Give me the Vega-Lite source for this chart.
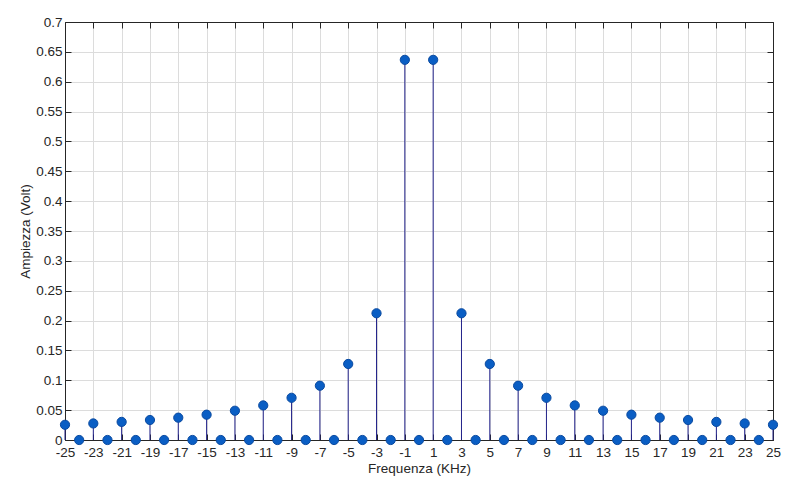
{
  "$schema": "https://vega.github.io/schema/vega-lite/v6.json",
  "width": 708,
  "height": 418,
  "autosize": {"type": "none"},
  "padding": {"left": 65, "top": 22, "right": 26, "bottom": 48},
  "background": "white",
  "config": {
    "view": {"stroke": "#262626", "strokeWidth": 1},
    "font": "Liberation Sans",
    "axis": {
      "labelFont": "Liberation Sans",
      "titleFont": "Liberation Sans",
      "labelFontSize": 13.5,
      "titleFontSize": 13.5,
      "titleFontWeight": "normal",
      "labelColor": "#262626",
      "titleColor": "#262626",
      "gridColor": "#dcdcdc",
      "gridWidth": 1,
      "domainColor": "#262626",
      "tickColor": "#262626"
    }
  },
  "data": {
    "values": [
      {"f": -25, "a": 0.0255}, {"f": -24, "a": 0}, {"f": -23, "a": 0.0277}, {"f": -22, "a": 0},
      {"f": -21, "a": 0.0303}, {"f": -20, "a": 0}, {"f": -19, "a": 0.0335}, {"f": -18, "a": 0},
      {"f": -17, "a": 0.0374}, {"f": -16, "a": 0}, {"f": -15, "a": 0.0424}, {"f": -14, "a": 0},
      {"f": -13, "a": 0.049}, {"f": -12, "a": 0}, {"f": -11, "a": 0.0579}, {"f": -10, "a": 0},
      {"f": -9, "a": 0.0707}, {"f": -8, "a": 0}, {"f": -7, "a": 0.0909}, {"f": -6, "a": 0},
      {"f": -5, "a": 0.1273}, {"f": -4, "a": 0}, {"f": -3, "a": 0.2122}, {"f": -2, "a": 0},
      {"f": -1, "a": 0.6366}, {"f": 0, "a": 0}, {"f": 1, "a": 0.6366}, {"f": 2, "a": 0},
      {"f": 3, "a": 0.2122}, {"f": 4, "a": 0}, {"f": 5, "a": 0.1273}, {"f": 6, "a": 0},
      {"f": 7, "a": 0.0909}, {"f": 8, "a": 0}, {"f": 9, "a": 0.0707}, {"f": 10, "a": 0},
      {"f": 11, "a": 0.0579}, {"f": 12, "a": 0}, {"f": 13, "a": 0.049}, {"f": 14, "a": 0},
      {"f": 15, "a": 0.0424}, {"f": 16, "a": 0}, {"f": 17, "a": 0.0374}, {"f": 18, "a": 0},
      {"f": 19, "a": 0.0335}, {"f": 20, "a": 0}, {"f": 21, "a": 0.0303}, {"f": 22, "a": 0},
      {"f": 23, "a": 0.0277}, {"f": 24, "a": 0}, {"f": 25, "a": 0.0255}
    ]
  },
  "layer": [
    {
      "mark": {"type": "rule", "color": "#22228a", "strokeWidth": 1},
      "encoding": {
        "x": {
          "field": "f", "type": "quantitative",
          "scale": {"domain": [-25, 25], "nice": false, "zero": false},
          "axis": {
            "title": "Frequenza (KHz)",
            "titlePadding": 3,
            "values": [-25, -23, -21, -19, -17, -15, -13, -11, -9, -7, -5, -3, -1, 1, 3, 5, 7, 9, 11, 13, 15, 17, 19, 21, 23, 25],
            "labelExpr": "'' + datum.value",
            "tickSize": -6,
            "labelPadding": 11,
            "labelFlush": false,
            "labelOverlap": false
          }
        },
        "y": {
          "field": "a", "type": "quantitative",
          "scale": {"domain": [0, 0.7], "nice": false},
          "axis": {
            "title": "Ampiezza (Volt)",
            "titlePadding": 3,
            "values": [0, 0.05, 0.1, 0.15, 0.2, 0.25, 0.3, 0.35, 0.4, 0.45, 0.5, 0.55, 0.6, 0.65, 0.7],
            "labelExpr": "'' + datum.value",
            "tickSize": -6,
            "labelPadding": 9,
            "labelFlush": false,
            "labelOverlap": false
          }
        },
        "y2": {"datum": 0}
      }
    },
    {
      "mark": {"type": "point", "shape": "circle", "filled": true, "size": 85, "fill": "#0a5ec4", "stroke": "#0a4aa0", "strokeWidth": 1, "opacity": 1},
      "encoding": {
        "x": {"field": "f", "type": "quantitative", "axis": null},
        "y": {"field": "a", "type": "quantitative", "axis": null}
      }
    },
    {
      "mark": {"type": "rule", "opacity": 0},
      "encoding": {
        "x": {
          "field": "f", "type": "quantitative",
          "axis": {
            "orient": "top", "title": null, "labels": false, "grid": false, "domain": true,
            "values": [-25, -23, -21, -19, -17, -15, -13, -11, -9, -7, -5, -3, -1, 1, 3, 5, 7, 9, 11, 13, 15, 17, 19, 21, 23, 25],
            "tickSize": -6
          }
        },
        "y": {
          "field": "a", "type": "quantitative",
          "axis": {
            "orient": "right", "title": null, "labels": false, "grid": false, "domain": true,
            "values": [0, 0.05, 0.1, 0.15, 0.2, 0.25, 0.3, 0.35, 0.4, 0.45, 0.5, 0.55, 0.6, 0.65, 0.7],
            "tickSize": -6
          }
        }
      }
    }
  ],
  "resolve": {"axis": {"x": "independent", "y": "independent"}}
}
